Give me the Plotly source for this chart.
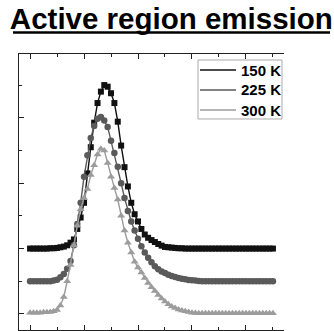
import plotly.graph_objects as go

# Photon energy grid (arbitrary units) and vertically offset emission spectra
x_vals = [0.0, 0.125, 0.25, 0.375, 0.5, 0.625, 0.75, 0.875, 1.0, 1.125, 1.25, 1.375,
          1.5, 1.625, 1.75, 1.875, 2.0, 2.125, 2.25, 2.375, 2.5, 2.625, 2.75, 2.875,
          3.0, 3.125, 3.25, 3.375, 3.5, 3.625, 3.75, 3.875, 4.0, 4.125, 4.25, 4.375,
          4.5, 4.625, 4.75, 4.875, 5.0, 5.125, 5.25, 5.375, 5.5, 5.625, 5.75, 5.875,
          6.0, 6.125, 6.25, 6.375, 6.5, 6.625, 6.75, 6.875, 7.0, 7.125, 7.25, 7.375,
          7.5, 7.625, 7.75, 7.875, 8.0, 8.125, 8.25, 8.375, 8.5, 8.625, 8.75, 8.875, 9.0]

y_150K = [2.0, 2.0, 2.0, 2.0, 2.0, 2.0, 2.01, 2.01, 2.02, 2.04, 2.06, 2.1,
          2.18, 2.28, 2.6, 2.95, 3.4, 4.3, 5.1, 5.85, 6.45, 6.8, 7.0, 6.95,
          6.75, 6.45, 5.88, 5.15, 4.49, 3.9, 3.4, 3.05, 2.83, 2.6, 2.43, 2.33,
          2.26, 2.2, 2.14, 2.09, 2.05, 2.04, 2.03, 2.02, 2.01, 2.01, 2.0, 2.0,
          2.0, 2.0, 2.0, 2.0, 2.0, 2.0, 2.0, 2.0, 2.0, 2.0, 2.0, 2.0,
          2.0, 2.0, 2.0, 2.0, 2.0, 2.0, 2.0, 2.0, 2.0, 2.0, 2.0, 2.0, 2.0]

y_225K = [1.0, 1.0, 1.0, 1.0, 1.0, 1.0, 1.0, 1.02, 1.05, 1.12, 1.22, 1.38,
          1.62, 2.1, 2.75, 3.4, 4.2, 4.85, 5.38, 5.75, 5.97, 6.02, 5.92, 5.72,
          5.3, 4.92, 4.5, 4.0, 3.55, 3.15, 2.83, 2.55, 2.3, 2.07, 1.88, 1.72,
          1.58, 1.46, 1.37, 1.3, 1.25, 1.2, 1.16, 1.13, 1.1, 1.08, 1.06, 1.04,
          1.03, 1.02, 1.01, 1.0, 1.0, 1.0, 1.0, 1.0, 1.0, 1.0, 1.0, 1.0,
          1.0, 1.0, 1.0, 1.0, 1.0, 1.0, 1.0, 1.0, 1.0, 1.0, 1.0, 1.0, 1.0]

y_300K = [0.04, 0.04, 0.04, 0.04, 0.05, 0.05, 0.06, 0.08, 0.12, 0.26, 0.52, 1.0,
          1.5, 2.1, 2.7, 3.2, 3.55, 3.82, 4.25, 4.55, 4.88, 5.05, 5.0, 4.62,
          4.2, 3.85, 3.5, 3.0, 2.55, 2.18, 1.88, 1.6, 1.42, 1.27, 1.1, 0.95,
          0.82, 0.7, 0.58, 0.47, 0.38, 0.3, 0.23, 0.18, 0.14, 0.11, 0.08, 0.06,
          0.04, 0.03, 0.02, 0.02, 0.02, 0.02, 0.02, 0.02, 0.02, 0.02, 0.02, 0.02,
          0.02, 0.02, 0.02, 0.02, 0.02, 0.02, 0.02, 0.02, 0.02, 0.02, 0.02, 0.02, 0.02]

labels = ["150 K", "225 K", "300 K"]
series = [y_150K, y_225K, y_300K]
colors = ["#111111", "#5a5a5a", "#9c9c9c"]
symbols = ["square", "circle", "triangle-up"]
sizes = [6, 6.5, 7]

FONT = "Liberation Sans, Arial, sans-serif"

fig = go.Figure()
for name, ys, col, sym, sz in zip(labels, series, colors, symbols, sizes):
    fig.add_trace(go.Scatter(
        x=x_vals, y=ys, mode="lines+markers", name=name, showlegend=False,
        line=dict(color=col, width=1.4),
        marker=dict(symbol=sym, size=sz, color=col, line=dict(width=0)),
    ))

axis_common = dict(
    showgrid=False, zeroline=False, showticklabels=False,
    showline=True, linecolor="#222222", linewidth=1,
    ticks="inside", ticklen=5, tickwidth=1, tickcolor="#222222",
)

fig.update_xaxes(range=[-0.41, 9.41], tick0=0, dtick=2, mirror="ticks",
                 minor=dict(ticks="inside", ticklen=3, dtick=1, tick0=0, tickcolor="#222222"),
                 **axis_common)
fig.update_yaxes(range=[-0.49, 7.95], tick0=0, dtick=2,
                 minor=dict(ticks="inside", ticklen=3, dtick=1, tick0=0, tickcolor="#222222"),
                 **axis_common)

# Legend box with line-only keys (paper coordinates of the plot area)
shapes = [
    dict(type="rect", xref="paper", yref="paper", x0=0.6755, x1=0.9925, y0=0.7645, y1=0.9783,
         line=dict(color="#aaaaaa", width=1), fillcolor="white", layer="above"),
    # title underline
    dict(type="line", xref="paper", yref="paper", x0=-0.0226, x1=1.1736, y0=1.078, y1=1.078,
         line=dict(color="black", width=2.5)),
]
annotations = []
row_y = [0.942, 0.870, 0.797]
for name, col, yy in zip(labels, colors, row_y):
    shapes.append(dict(type="line", xref="paper", yref="paper", x0=0.683, x1=0.819, y0=yy, y1=yy,
                       line=dict(color=col, width=1.5), layer="above"))
    annotations.append(dict(text=f"<b>{name}</b>", xref="paper", yref="paper", x=0.83, y=yy,
                            xanchor="left", yanchor="middle", showarrow=False,
                            font=dict(size=15, family=FONT, color="black")))

fig.update_layout(
    width=334, height=331,
    margin=dict(l=19, r=50, t=54, b=1),
    paper_bgcolor="white", plot_bgcolor="white",
    font=dict(family=FONT, color="black"),
    showlegend=False,
    shapes=shapes, annotations=annotations,
    title=dict(
        text="<b>Active region emission</b>",
        x=0.513, xanchor="center", xref="container",
        y=0.975, yanchor="top", yref="container",
        font=dict(size=29.5, family=FONT, color="black"),
    ),
)

fig.write_html("out.html")
